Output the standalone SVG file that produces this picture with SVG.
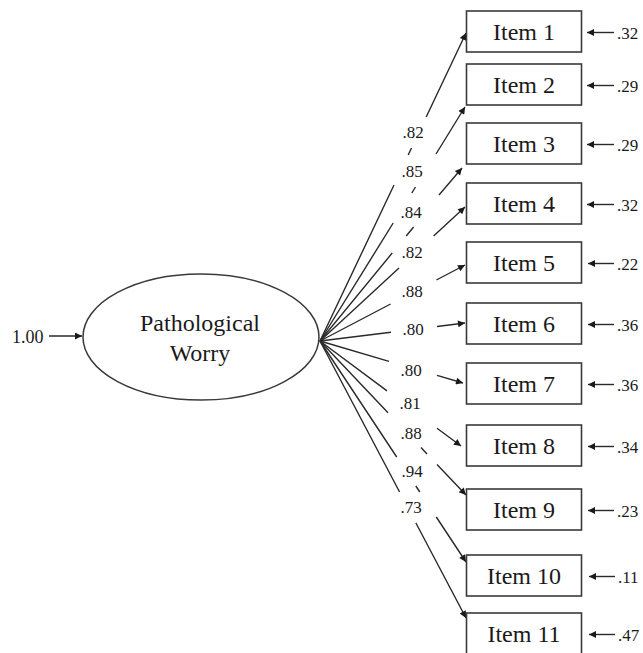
<svg xmlns="http://www.w3.org/2000/svg" width="643" height="653" viewBox="0 0 643 653">
<defs>
<marker id="ah" viewBox="0 0 10 10" refX="10" refY="5" markerWidth="10" markerHeight="7" markerUnits="userSpaceOnUse" orient="auto">
<path d="M0,0 L10,5 L0,10 z" fill="#1a1a1a"/>
</marker>
<style>
.box{fill:#fff;stroke:#3a3a3a;stroke-width:1.6}
.ln{fill:none;stroke:#2a2a2a;stroke-width:1.4;marker-end:url(#ah)}
.t{font-family:"Liberation Serif","Times New Roman",serif;fill:#1a1a1a}
.it{font-size:24px;text-anchor:middle}
.lb{font-size:17px;text-anchor:middle}
.er{font-size:17px}
</style>
</defs>
<rect width="643" height="653" fill="#fff"/>

<g id="connectors">
<path class="ln" d="M49,336 L82,336"/>
<path class="ln" d="M320,341 L394,185 M408.2,155 L411.5,148 M426.2,117 L466,33"/>
<path class="ln" d="M320,341 L393.2,223 M411.8,193 L415.5,187 M436,154 L465,107"/>
<path class="ln" d="M320,341 L392.2,253 M406.2,236 L413.6,227 M439,195 L462,168"/>
<path class="ln" d="M320,341 L399,268 M433.6,236 L465,207"/>
<path class="ln" d="M320,341 L390.6,304 M436.4,280 L465,265"/>
<path class="ln" d="M320,341 L391,332.2 M437,326.5 L465,323"/>
<path class="ln" d="M320,341 L389,361.3 M437,375.4 L463,383"/>
<path class="ln" d="M320,341 L387,390.9 M437,428.2 L461,446"/>
<path class="ln" d="M320,341 L388,412.7 M421,447.6 L427,453.9 M437,464.4 L466,495"/>
<path class="ln" d="M320,341 L396.7,457 M415.8,486 L419.8,492 M436.3,517 L466,562"/>
<path class="ln" d="M320,341 L399.6,492 M415.9,523 L466,618"/>
<path class="ln" d="M614,32.5 L587,32.5"/>
<path class="ln" d="M614,85.5 L587,85.5"/>
<path class="ln" d="M614,144.5 L587,144.5"/>
<path class="ln" d="M614,204.5 L587,204.5"/>
<path class="ln" d="M614,263.5 L588,263.5"/>
<path class="ln" d="M614,324.5 L588,324.5"/>
<path class="ln" d="M614,384.5 L588,384.5"/>
<path class="ln" d="M614,446.5 L588,446.5"/>
<path class="ln" d="M614,510.5 L588,510.5"/>
<path class="ln" d="M615,576.5 L589,576.5"/>
<path class="ln" d="M615,634.5 L589,634.5"/>
</g>

<g id="loadings" class="t lb">
<text x="413" y="138">.82</text>
<text x="412" y="177">.85</text>
<text x="411" y="218">.84</text>
<text x="412" y="258">.82</text>
<text x="412" y="297">.88</text>
<text x="413" y="335">.80</text>
<text x="411" y="376">.80</text>
<text x="410" y="409">.81</text>
<text x="411" y="439">.88</text>
<text x="412" y="477">.94</text>
<text x="411" y="513">.73</text>
</g>

<g id="latent">
<ellipse cx="201" cy="337" rx="118" ry="63" fill="#fff" stroke="#3a3a3a" stroke-width="1.5"/>
<text class="t it" x="200" y="331">Pathological</text>
<text class="t it" x="200" y="361">Worry</text>
</g>
<g id="variance"><text class="t" x="12" y="343" font-size="18">1.00</text></g>

<g id="item1"><rect class="box" x="466.5" y="11" width="115" height="41"/><text class="t it" x="524" y="39.5">Item 1</text><text class="t er" x="617" y="38.5">.32</text></g>
<g id="item2"><rect class="box" x="466.5" y="64" width="115" height="41"/><text class="t it" x="524" y="92.5">Item 2</text><text class="t er" x="617" y="91.5">.29</text></g>
<g id="item3"><rect class="box" x="466.5" y="123" width="115" height="41"/><text class="t it" x="524" y="151.5">Item 3</text><text class="t er" x="617" y="150.5">.29</text></g>
<g id="item4"><rect class="box" x="466.5" y="183" width="115" height="41"/><text class="t it" x="524" y="211.5">Item 4</text><text class="t er" x="617" y="210.5">.32</text></g>
<g id="item5"><rect class="box" x="466.5" y="242" width="115" height="41"/><text class="t it" x="524" y="270.5">Item 5</text><text class="t er" x="617" y="269.5">.22</text></g>
<g id="item6"><rect class="box" x="466.5" y="303" width="115" height="41"/><text class="t it" x="524" y="331.5">Item 6</text><text class="t er" x="617" y="330.5">.36</text></g>
<g id="item7"><rect class="box" x="466.5" y="363" width="115" height="41"/><text class="t it" x="524" y="391.5">Item 7</text><text class="t er" x="617" y="390.5">.36</text></g>
<g id="item8"><rect class="box" x="466.5" y="425" width="115" height="41"/><text class="t it" x="524" y="453.5">Item 8</text><text class="t er" x="617" y="452.5">.34</text></g>
<g id="item9"><rect class="box" x="466.5" y="489" width="115" height="41"/><text class="t it" x="524" y="517.5">Item 9</text><text class="t er" x="617" y="516.5">.23</text></g>
<g id="item10"><rect class="box" x="466.5" y="555" width="115" height="41"/><text class="t it" x="524" y="583.5">Item 10</text><text class="t er" x="618" y="582.5">.11</text></g>
<g id="item11"><rect class="box" x="466.5" y="613" width="115" height="42"/><text class="t it" x="524" y="641.5">Item 11</text><text class="t er" x="618" y="640.5">.47</text></g>
</svg>
